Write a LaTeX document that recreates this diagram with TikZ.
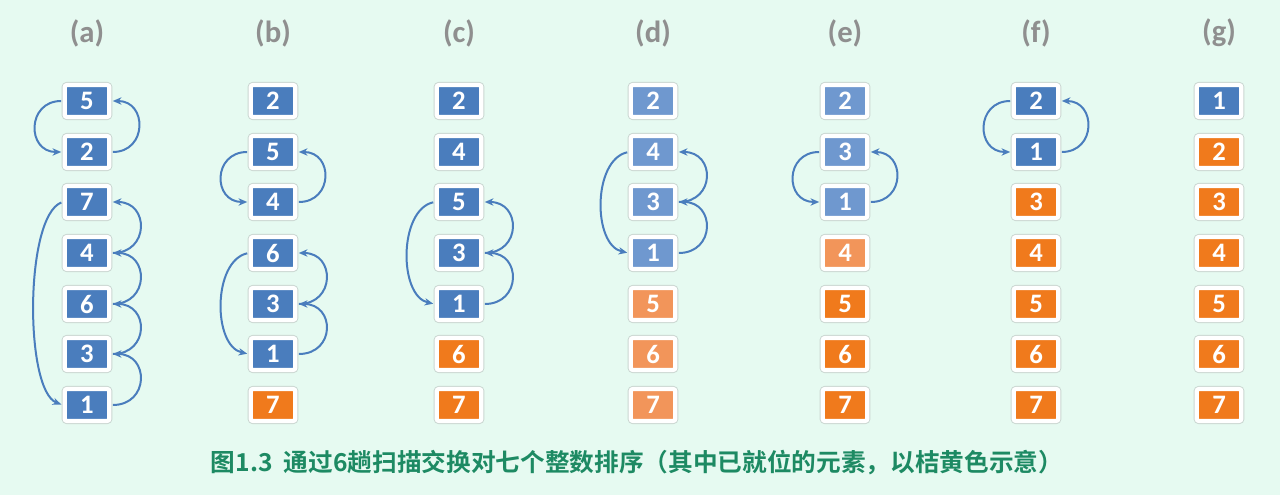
\documentclass[tikz,border=0pt]{standalone}
\usepackage{fontspec}
\usetikzlibrary{arrows.meta,shadows}
\newfontfamily\cellfont{Carlito}[BoldFont={* Bold}]
\newfontfamily\cjkfont{Noto Sans CJK SC}[BoldFont={* Bold}]
\definecolor{bgc}{HTML}{E6FAF1}
\definecolor{cblue}{HTML}{4A7DBD}
\definecolor{cbluel}{HTML}{6F98CF}
\definecolor{corange}{HTML}{F07A1C}
\definecolor{corangel}{HTML}{F2955A}
\definecolor{labgray}{HTML}{8F8F8F}
\definecolor{capc}{HTML}{1D8A63}
\definecolor{rimc}{HTML}{CAD6D1}
\tikzset{
  cell/.style={rectangle, rounded corners=1.8pt, draw=white, line width=3.2pt,
    minimum width=33.5pt, minimum height=24pt, inner sep=0pt, text=white,
    font=\cellfont\bfseries\fontsize{20}{20}\selectfont,
    preaction={draw=rimc, line width=4.6pt},
    drop shadow={shadow xshift=0.8pt, shadow yshift=-1.3pt, opacity=0.3}},
  bl/.style={cell, fill=cblue},
  og/.style={cell, fill=corange},
  bll/.style={cell, fill=cbluel},
  ogl/.style={cell, fill=corangel},
  arr/.style={draw=cblue, line width=1.5pt, shorten >=1pt, shorten <=1pt,
    -{Stealth[length=6.5pt,width=5.5pt]}},
  lab/.style={text=labgray, font=\cellfont\bfseries\fontsize{23}{23}\selectfont},
  captext/.style={text=capc, font=\cjkfont\bfseries\fontsize{18.5}{19}\selectfont}
}
\begin{document}
\begin{tikzpicture}[x=0.75pt,y=-0.75pt]
\fill[bgc] (0,0) rectangle (1280,495);
\useasboundingbox (0,0) rectangle (1280,495);
% labels
\node[lab] (la) at (87,33) {(a)};
\node[lab] (lb) at (273,33) {(b)};
\node[lab] (lc) at (459,33) {(c)};
\node[lab] (ld) at (653,33) {(d)};
\node[lab] (le) at (845,33) {(e)};
\node[lab] (lf) at (1036,33) {(f)};
\node[lab] (lg) at (1219,33) {(g)};
% column a
\node[bl] (a1) at (87,101) {5};
\node[bl] (a2) at (87,152) {2};
\node[bl] (a3) at (87,202) {7};
\node[bl] (a4) at (87,253) {4};
\node[bl] (a5) at (87,304) {6};
\node[bl] (a6) at (87,354) {3};
\node[bl] (a7) at (87,405) {1};
% column b
\node[bl] (b1) at (273,101) {2};
\node[bl] (b2) at (273,152) {5};
\node[bl] (b3) at (273,202) {4};
\node[bl] (b4) at (273,253) {6};
\node[bl] (b5) at (273,304) {3};
\node[bl] (b6) at (273,354) {1};
\node[og] (b7) at (273,405) {7};
% column c
\node[bl] (c1) at (459,101) {2};
\node[bl] (c2) at (459,152) {4};
\node[bl] (c3) at (459,202) {5};
\node[bl] (c4) at (459,253) {3};
\node[bl] (c5) at (459,304) {1};
\node[og] (c6) at (459,354) {6};
\node[og] (c7) at (459,405) {7};
% column d
\node[bll] (d1) at (653,101) {2};
\node[bll] (d2) at (653,152) {4};
\node[bll] (d3) at (653,202) {3};
\node[bll] (d4) at (653,253) {1};
\node[ogl] (d5) at (653,304) {5};
\node[ogl] (d6) at (653,354) {6};
\node[ogl] (d7) at (653,405) {7};
% column e
\node[bll] (e1) at (845,101) {2};
\node[bll] (e2) at (845,152) {3};
\node[bll] (e3) at (845,202) {1};
\node[ogl] (e4) at (845,253) {4};
\node[og] (e5) at (845,304) {5};
\node[og] (e6) at (845,354) {6};
\node[og] (e7) at (845,405) {7};
% column f
\node[bl] (f1) at (1036,101) {2};
\node[bl] (f2) at (1036,152) {1};
\node[og] (f3) at (1036,202) {3};
\node[og] (f4) at (1036,253) {4};
\node[og] (f5) at (1036,304) {5};
\node[og] (f6) at (1036,354) {6};
\node[og] (f7) at (1036,405) {7};
% column g
\node[bl] (g1) at (1219,101) {1};
\node[og] (g2) at (1219,152) {2};
\node[og] (g3) at (1219,202) {3};
\node[og] (g4) at (1219,253) {4};
\node[og] (g5) at (1219,304) {5};
\node[og] (g6) at (1219,354) {6};
\node[og] (g7) at (1219,405) {7};
% arrows a
\draw[arr] (a1.west) .. controls +(-36,0) and +(-36,0) .. (a2.west);
\draw[arr] (a2.east) .. controls +(36,0) and +(36,0) .. (a1.east);
\draw[arr] (a3.west) .. controls +(-38,15) and +(-38,-15) .. (a7.west);
\draw[arr] (a7.east) .. controls +(38,0) and +(38,0) .. (a6.east);
\draw[arr] (a6.east) .. controls +(38,0) and +(38,0) .. (a5.east);
\draw[arr] (a5.east) .. controls +(38,0) and +(38,0) .. (a4.east);
\draw[arr] (a4.east) .. controls +(38,0) and +(38,0) .. (a3.east);
% arrows b
\draw[arr] (b2.west) .. controls +(-36,0) and +(-36,0) .. (b3.west);
\draw[arr] (b3.east) .. controls +(36,0) and +(36,0) .. (b2.east);
\draw[arr] (b4.west) .. controls +(-36,8) and +(-36,-8) .. (b6.west);
\draw[arr] (b6.east) .. controls +(38,0) and +(38,0) .. (b5.east);
\draw[arr] (b5.east) .. controls +(38,0) and +(38,0) .. (b4.east);
% arrows c
\draw[arr] (c3.west) .. controls +(-36,8) and +(-36,-8) .. (c5.west);
\draw[arr] (c5.east) .. controls +(38,0) and +(38,0) .. (c4.east);
\draw[arr] (c4.east) .. controls +(38,0) and +(38,0) .. (c3.east);
% arrows d
\draw[arr] (d2.west) .. controls +(-36,8) and +(-36,-8) .. (d4.west);
\draw[arr] (d4.east) .. controls +(38,0) and +(38,0) .. (d3.east);
\draw[arr] (d3.east) .. controls +(38,0) and +(38,0) .. (d2.east);
% arrows e
\draw[arr] (e2.west) .. controls +(-36,0) and +(-36,0) .. (e3.west);
\draw[arr] (e3.east) .. controls +(36,0) and +(36,0) .. (e2.east);
% arrows f
\draw[arr] (f1.west) .. controls +(-36,0) and +(-36,0) .. (f2.west);
\draw[arr] (f2.east) .. controls +(36,0) and +(36,0) .. (f1.east);
% caption
\node[captext] (caption) at (637,463) {图1.3\ \ 通过6趟扫描交换对七个整数排序（其中已就位的元素，以桔黄色示意）};
\end{tikzpicture}
\end{document}
